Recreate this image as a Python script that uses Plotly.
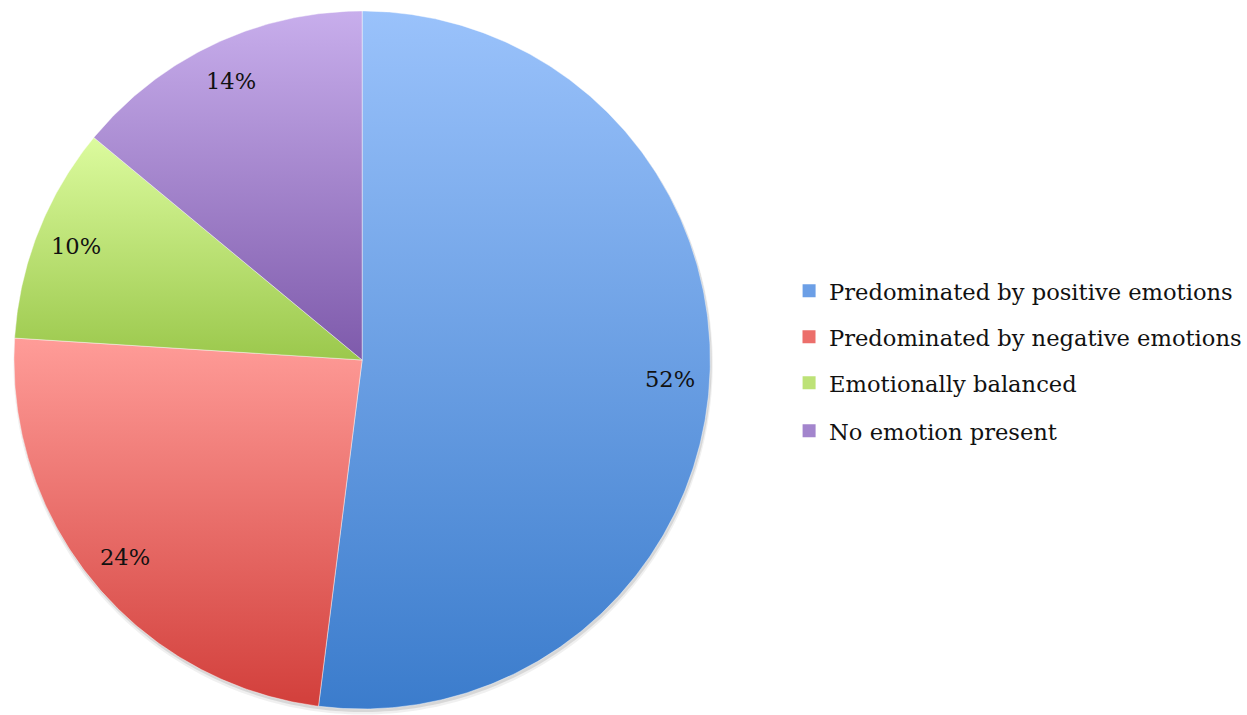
import numpy as np
import plotly.graph_objects as go

# Share of responses by emotional tone
categories = [
    "Predominated by positive emotions",
    "Predominated by negative emotions",
    "Emotionally balanced",
    "No emotion present",
]
shares = [52, 24, 10, 14]
share_labels = ["52%", "24%", "10%", "14%"]

# Per-slice vertical gradient (light at the top, dark at the bottom)
top_colors = ["#9AC2FB", "#FF9C98", "#DCFB9E", "#C8AEEC"]
bottom_colors = ["#3B7CCC", "#D23F3B", "#9BC84C", "#7E5AAB"]
legend_colors = ["#6C9FE6", "#EC6F6B", "#BDE277", "#A385CD"]

W, H = 1247, 715
CX_PX, CY_PX = 363, 360     # pie centre in page pixels
R = 349                      # radius in pixels (1 data unit = 1 px)
FONT = "DejaVu Serif"
FONT_SIZE = 22.6

fig = go.Figure()


def circle(cx, cy, r, n=360):
    t = np.linspace(0, 2 * np.pi, n)
    return cx + r * np.sin(t), cy + r * np.cos(t)


# soft drop shadow under the pie
for dx, dy, dr, alpha in [(1, -4, 1.5, 0.06), (1, -2.5, 0.5, 0.10)]:
    sx, sy = circle(dx, dy, R + dr)
    fig.add_trace(go.Scatter(
        x=sx, y=sy, mode="none", fill="toself",
        fillcolor=f"rgba(0,0,0,{alpha})", showlegend=False, hoverinfo="skip",
    ))

total = float(sum(shares))
start = 0.0
mid_angles = []
for cat, val, top, bot in zip(categories, shares, top_colors, bottom_colors):
    a0 = start / total * 2 * np.pi
    a1 = (start + val) / total * 2 * np.pi
    mid_angles.append((a0 + a1) / 2)
    t = np.linspace(a0, a1, max(int(val * 8), 20))
    xs = np.concatenate([[0.0], R * np.sin(t), [0.0]])
    ys = np.concatenate([[0.0], R * np.cos(t), [0.0]])
    fig.add_trace(go.Scatter(
        x=xs, y=ys, mode="lines", fill="toself",
        line=dict(color="rgba(255,255,255,0.55)", width=0.8),
        fillgradient=dict(type="vertical", colorscale=[[0, bot], [1, top]]),
        name=cat, showlegend=False, hoverinfo="name",
    ))
    start += val

# percentage labels placed along each slice's mid angle
for ang, txt in zip(mid_angles, share_labels):
    fig.add_annotation(
        x=0.885 * R * np.sin(ang), y=0.885 * R * np.cos(ang),
        text=txt, showarrow=False,
        font=dict(family=FONT, size=FONT_SIZE, color="#111111"),
        xanchor="center", yanchor="middle",
    )

# legend entries, one legend per row for even spacing
legend_rows_px = [291, 337, 383, 431]
legend_keys = ["legend", "legend2", "legend3", "legend4"]
legend_layout = {}
for cat, col, key, ypx in zip(categories, legend_colors, legend_keys, legend_rows_px):
    fig.add_trace(go.Scatter(
        x=[None], y=[None], mode="markers",
        marker=dict(symbol="square", size=13, color=col),
        name=cat, legend=key, showlegend=True,
    ))
    legend_layout[key] = dict(
        x=791 / W, y=1 - ypx / H, xanchor="left", yanchor="middle",
        xref="paper", yref="paper",
        font=dict(family=FONT, size=FONT_SIZE, color="#111111"),
        bgcolor="rgba(0,0,0,0)", borderwidth=0,
    )

fig.update_layout(
    width=W, height=H,
    margin=dict(l=0, r=0, t=0, b=0),
    paper_bgcolor="white", plot_bgcolor="white",
    xaxis=dict(range=[-CX_PX, W - CX_PX], visible=False, fixedrange=True),
    yaxis=dict(range=[-(H - CY_PX), CY_PX], visible=False, fixedrange=True),
    **legend_layout,
)

fig.write_html("out.html")
